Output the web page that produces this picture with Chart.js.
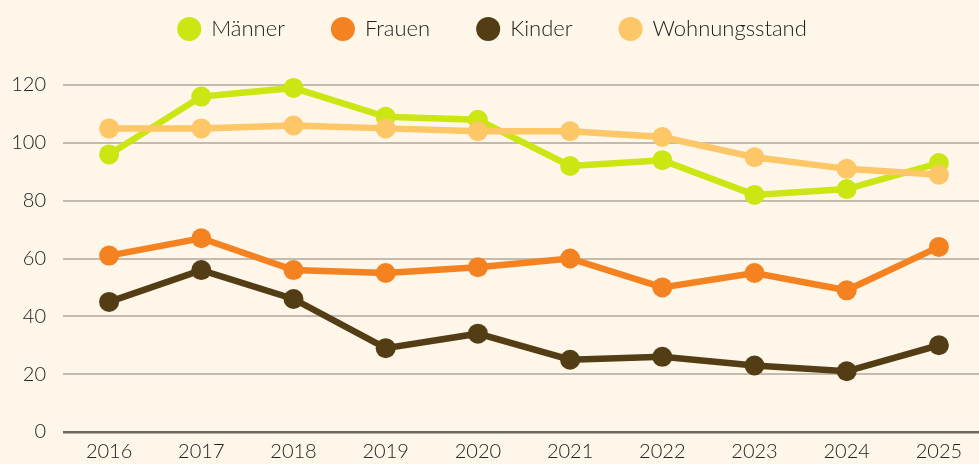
<!DOCTYPE html>
<html>
<head>
<meta charset="utf-8">
<script src="https://cdn.jsdelivr.net/npm/chart.js@4/dist/chart.umd.min.js"></script>
<style>
  html, body { margin: 0; padding: 0; background: #fef6e8; overflow: hidden; }
  #wrap { width: 985px; height: 464px; }
</style>
</head>
<body>
<div id="wrap"><canvas id="chart"></canvas></div>
<script>
// Daten
const years = ['2016', '2017', '2018', '2019', '2020', '2021', '2022', '2023', '2024', '2025'];
const maenner = [96, 116, 119, 109, 108, 92, 94, 82, 84, 93];
const frauen = [61, 67, 56, 55, 57, 60, 50, 55, 49, 64];
const kinder = [45, 56, 46, 29, 34, 25, 26, 23, 21, 30];
const wohnungsstand = [105, 105, 106, 105, 104, 104, 102, 95, 91, 89];
const yTicks = [0, 20, 40, 60, 80, 100, 120];

Chart.defaults.font.family = 'Lato, "Noto Sans", sans-serif';
Chart.defaults.font.size = 20;
Chart.defaults.font.weight = 300;
Chart.defaults.color = '#222';

function series(label, data, color, order) {
    return {
        label,
        data,
        borderColor: color,
        backgroundColor: color,
        pointBackgroundColor: color,
        pointBorderWidth: 0,
        borderWidth: 6.5,
        pointRadius: 10,
        pointHoverRadius: 10,
        tension: 0,
        clip: false,
        order
    };
}

// Legende: feste Höhe, Einträge etwas nach oben schieben
const legendLayout = {
    id: 'legendLayout',
    beforeInit(chart) {
        const legend = chart.legend;
        const fit = legend.fit;
        legend.fit = function () {
            fit.call(this);
            this.height = 85;
        };
    },
    afterLayout(chart) {
        chart.legend.top = -29;
    }
};

const ctx = document.getElementById('chart').getContext('2d');
new Chart(ctx, {
    type: 'line',
    data: {
        labels: years,
        datasets: [
            series('Männer', maenner, '#cbe612', 1),
            series('Frauen', frauen, '#f58220', 2),
            series('Kinder', kinder, '#533d15', 3),
            series('Wohnungsstand', wohnungsstand, '#fdc666', 0)
        ]
    },
    plugins: [legendLayout],
    options: {
        responsive: true,
        maintainAspectRatio: false,
        animation: false,
        layout: { padding: 0, autoPadding: false },
        plugins: {
            legend: {
                labels: {
                    usePointStyle: true,
                    pointStyle: 'circle',
                    boxWidth: 22,
                    boxHeight: 17,
                    padding: 47,
                    font: { size: 22 },
                    sort: (a, b) => a.datasetIndex - b.datasetIndex
                }
            },
            tooltip: { enabled: false }
        },
        scales: {
            x: {
                offset: true,
                afterFit: axis => { axis.height = 32; },
                grid: { display: false, drawTicks: false },
                border: { display: false },
                ticks: { padding: 8 }
            },
            y: {
                min: 0,
                max: 120,
                afterFit: axis => { axis.width = 63; },
                afterBuildTicks: axis => { axis.ticks = yTicks.map(v => ({ value: v })); },
                grid: {
                    color: ctx => ctx.tick.value === 0 ? '#6e6861' : '#c4bbb0',
                    lineWidth: ctx => ctx.tick.value === 0 ? 2.5 : 2,
                    drawTicks: false
                },
                border: { display: false },
                ticks: { padding: 17 }
            }
        }
    }
});
</script>
</body>
</html>
